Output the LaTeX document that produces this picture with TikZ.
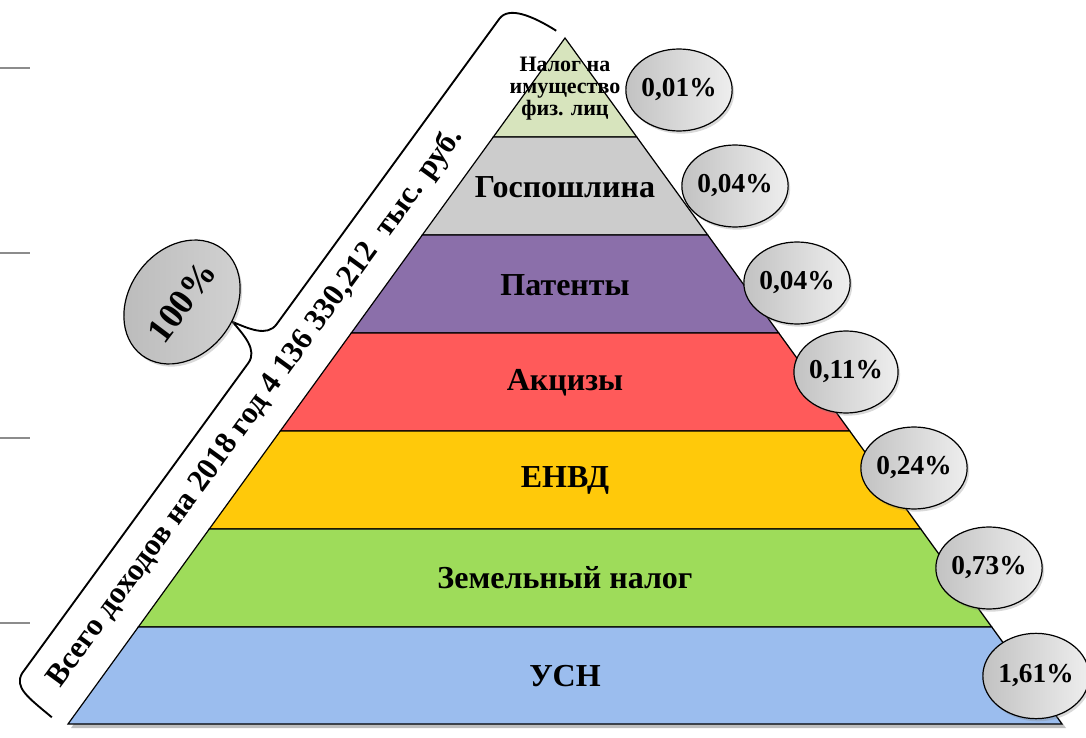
\documentclass[tikz,border=0pt]{standalone}
\usepackage{fontspec}
\setmainfont{Liberation Serif}
\usetikzlibrary{shapes.geometric,shadows}
\definecolor{cTop}{HTML}{D7E4BD}
\definecolor{cGos}{HTML}{CCCCCC}
\definecolor{cPat}{HTML}{8B6FAA}
\definecolor{cAkc}{HTML}{FF5A5A}
\definecolor{cEnv}{HTML}{FFC90A}
\definecolor{cZem}{HTML}{9EDC5A}
\definecolor{cUsn}{HTML}{9BBDEE}
\definecolor{pctL}{HTML}{C2C2C2}
\definecolor{pctR}{HTML}{EEEEEE}
\definecolor{bigL}{HTML}{BBBBBB}
\definecolor{bigR}{HTML}{D2D2D2}
\definecolor{tick}{HTML}{8C8C8C}
\begin{document}
\begin{tikzpicture}[x=0.75pt,y=0.75pt,
  layer/.style={draw=black, line width=0.9pt},
  lbl/.style={font=\bfseries\fontsize{24}{28}\selectfont, text=black, inner sep=0pt},
  pct/.style={ellipse, draw=black, line width=0.9pt, minimum width=76.5pt, minimum height=61.5pt,
    inner sep=0pt, left color=pctL, right color=pctR,
    drop shadow={opacity=0.3, shadow xshift=1.5pt, shadow yshift=-2pt},
    font=\bfseries\fontsize{20.5}{24}\selectfont},
  bigpct/.style={ellipse, draw=black, line width=0.9pt, minimum width=100pt, minimum height=79pt,
    inner sep=0pt, left color=bigL, right color=bigR,
    drop shadow={opacity=0.3, shadow xshift=1.5pt, shadow yshift=-2pt},
    font=\bfseries\fontsize{27}{30}\selectfont},
  tickline/.style={draw=tick, line width=1.1pt}]
\useasboundingbox (0,0) rectangle (1086,-738);

% left grey ticks
\foreach \yy/\nm in {68/t1,253/t2,438/t3,623/t4}{
  \coordinate (\nm a) at (0,-\yy);
  \coordinate (\nm b) at (30,-\yy);
  \draw[tickline] (\nm a) -- (\nm b);
}

% pyramid shadow
\fill[black, opacity=0.25] (567,-40) -- (1066,-728) -- (71,-728) -- cycle;
% layers
\filldraw[layer, fill=cTop] (565,-38) -- (636.7,-137) -- (493.3,-137) -- cycle;
\filldraw[layer, fill=cGos] (493.3,-137) -- (636.7,-137) -- (707.7,-235) -- (422.3,-235) -- cycle;
\filldraw[layer, fill=cPat] (422.3,-235) -- (707.7,-235) -- (778.7,-333) -- (351.3,-333) -- cycle;
\filldraw[layer, fill=cAkc] (351.3,-333) -- (778.7,-333) -- (849.7,-431) -- (280.3,-431) -- cycle;
\filldraw[layer, fill=cEnv] (280.3,-431) -- (849.7,-431) -- (920.7,-529) -- (209.3,-529) -- cycle;
\filldraw[layer, fill=cZem] (209.3,-529) -- (920.7,-529) -- (991.7,-627) -- (138.3,-627) -- cycle;
\filldraw[layer, fill=cUsn] (138.3,-627) -- (991.7,-627) -- (1062,-724) -- (68,-724) -- cycle;

% layer labels
\node[lbl, font=\bfseries\fontsize{16.5}{16.5}\selectfont, align=center] (lTop) at (565,-89) {Налог на\\имущество\\физ. лиц};
\node[lbl] (lGos) at (565,-187) {Госпошлина};
\node[lbl] (lPat) at (565,-285) {Патенты};
\node[lbl] (lAkc) at (565,-383) {Акцизы};
\node[lbl] (lEnv) at (565,-480) {ЕНВД};
\node[lbl] (lZem) at (565,-578) {Земельный налог};
\node[lbl] (lUsn) at (565,-676) {УСН};

% percentage ellipses
\node[pct] (p1) at (679,-90) {0,01\%};
\node[pct] (p2) at (735,-186) {0,04\%};
\node[pct] (p3) at (797,-283) {0,04\%};
\node[pct] (p4) at (846,-372) {0,11\%};
\node[pct] (p5) at (914,-468) {0,24\%};
\node[pct] (p6) at (989,-568) {0,73\%};
\node[pct, minimum width=73pt, minimum height=64pt] (p7) at (1036,-676) {1,61\%};

% brace
\begin{scope}[shift={(15,-683)}, rotate=53.9]
  \coordinate (tip) at (420,37);
  \coordinate (bEnd) at (-6,-50);
  \coordinate (tEnd) at (846,-53);
  \draw[black, line width=1.4pt, line join=round]
    (bEnd) .. controls (-4,-18) and (-4,-2) .. (12,0) -- (396,0)
    .. controls (412,0) and (416,20) .. (tip)
    .. controls (424,20) and (428,0) .. (444,0) -- (822,0)
    .. controls (838,0) and (844,-25) .. (tEnd);
  \node[font=\bfseries\fontsize{23.3}{26}\selectfont, inner sep=0pt, rotate=53.9] (tot) at (364,-32)
    {Всего доходов на 2018 год 4 136 330,212 \ тыс. руб.};
\end{scope}

\node[bigpct, rotate=53] (p100) at (182,-302) {100\%};
\end{tikzpicture}
\end{document}
